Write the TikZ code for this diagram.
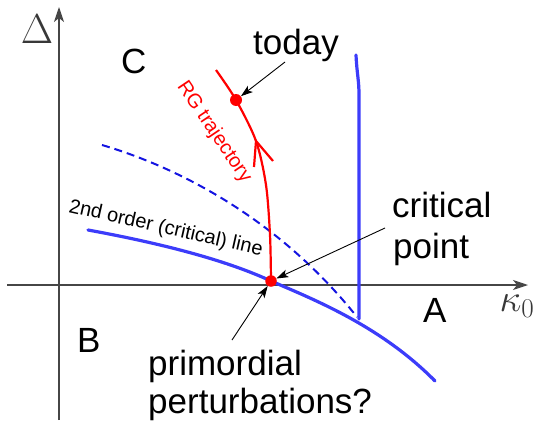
\RequirePackage{fix-cm}
\documentclass[tikz,border=0pt]{standalone}
\usepackage{fontspec}
\setmainfont{Liberation Sans}
\usetikzlibrary{arrows.meta}
\definecolor{axisgray}{RGB}{70,70,70}
\definecolor{lineblue}{RGB}{60,60,250}
\definecolor{dashblue}{RGB}{20,20,225}
\begin{document}
\begin{tikzpicture}[x=1pt,y=-1pt,
  axis/.style={draw=axisgray, line width=1.2pt, -{Stealth[length=15pt,width=10pt,inset=4pt]}},
  big/.style={font=\fontsize{35}{38}\selectfont, inner sep=0pt, anchor=base west},
  pointer/.style={draw=black, line width=0.9pt, -{Stealth[length=12pt,width=8pt,inset=3pt]}},
  reddot/.style={circle, fill=red, inner sep=0pt, minimum size=#1},
  solidblue/.style={draw=lineblue, line width=3.2pt, line cap=round},
  dashline/.style={draw=dashblue, line width=2pt, dash pattern=on 8pt off 5pt},
  redline/.style={draw=red, line width=2.2pt},
  mathlabel/.style={font=\fontsize{31}{31}\selectfont, inner sep=0pt, text=axisgray!80!black}
]
\useasboundingbox (0,0) rectangle (534,420);

% axes
\coordinate (xs) at (7,285);
\coordinate (xe) at (528,285);
\coordinate (ys) at (59,420);
\coordinate (ye) at (59,7);
\draw[axis] (xs) -- (xe);
\draw[axis] (ys) -- (ye);
\node[mathlabel] (delta) at (37,29) {\scalebox{1.35}{$\Delta$}};
\node[mathlabel] (kappa) at (517,306) {\scalebox{1.25}{$\kappa_0$}};

% blue lines
\draw[dashline] (102,145) .. controls (180,168) and (280,220) .. (357,317);
\draw[solidblue] (356,55) .. controls (357,75) and (359,80) .. (359,95) -- (359,319);
\draw[solidblue] (88,230) .. controls (170,245) and (230,262) .. (271,281)
                 .. controls (310,298) and (380,325) .. (435,381);

% red trajectory
\node[reddot=12pt] (today) at (236,100) {};
\node[reddot=11.5pt] (crit) at (271,281) {};
\draw[redline] plot[smooth] coordinates {(216,70) (236,100) (256,141) (266,185) (270,235) (271,281)};
\draw[redline] (254,167) -- (256,141) -- (273,161);
\node[text=red, font=\fontsize{20}{20}\selectfont, rotate=-56, inner sep=0pt] (rg) at (214,132) {RG trajectory};

% region labels
\node[big] (C) at (121,73) {C};
\node[big] (B) at (77,352) {B};
\node[big] (A) at (423,322) {A};

% annotations
\node[big] (todaylbl) at (253,55) {today};
\node[big] (critlbl) at (392,217) {critical};
\node[big] (pointlbl) at (393,258) {point};
\node[big] (primlbl) at (148,375) {primordial};
\node[big] (pertlbl) at (148,413) {perturbations?};
\coordinate (todaytail) at (285,62);
\coordinate (crittail) at (385,228);
\coordinate (primtail) at (232,340);
\draw[pointer] (todaytail) -- (today);
\draw[pointer] (crittail) -- (crit);
\draw[pointer] (primtail) -- (crit);

% critical line label
\node[font=\fontsize{20}{20}\selectfont, rotate=-12.7, inner sep=0pt, anchor=base west] (ordlbl) at (68,212) {2nd order (critical) line};
\end{tikzpicture}
\end{document}
